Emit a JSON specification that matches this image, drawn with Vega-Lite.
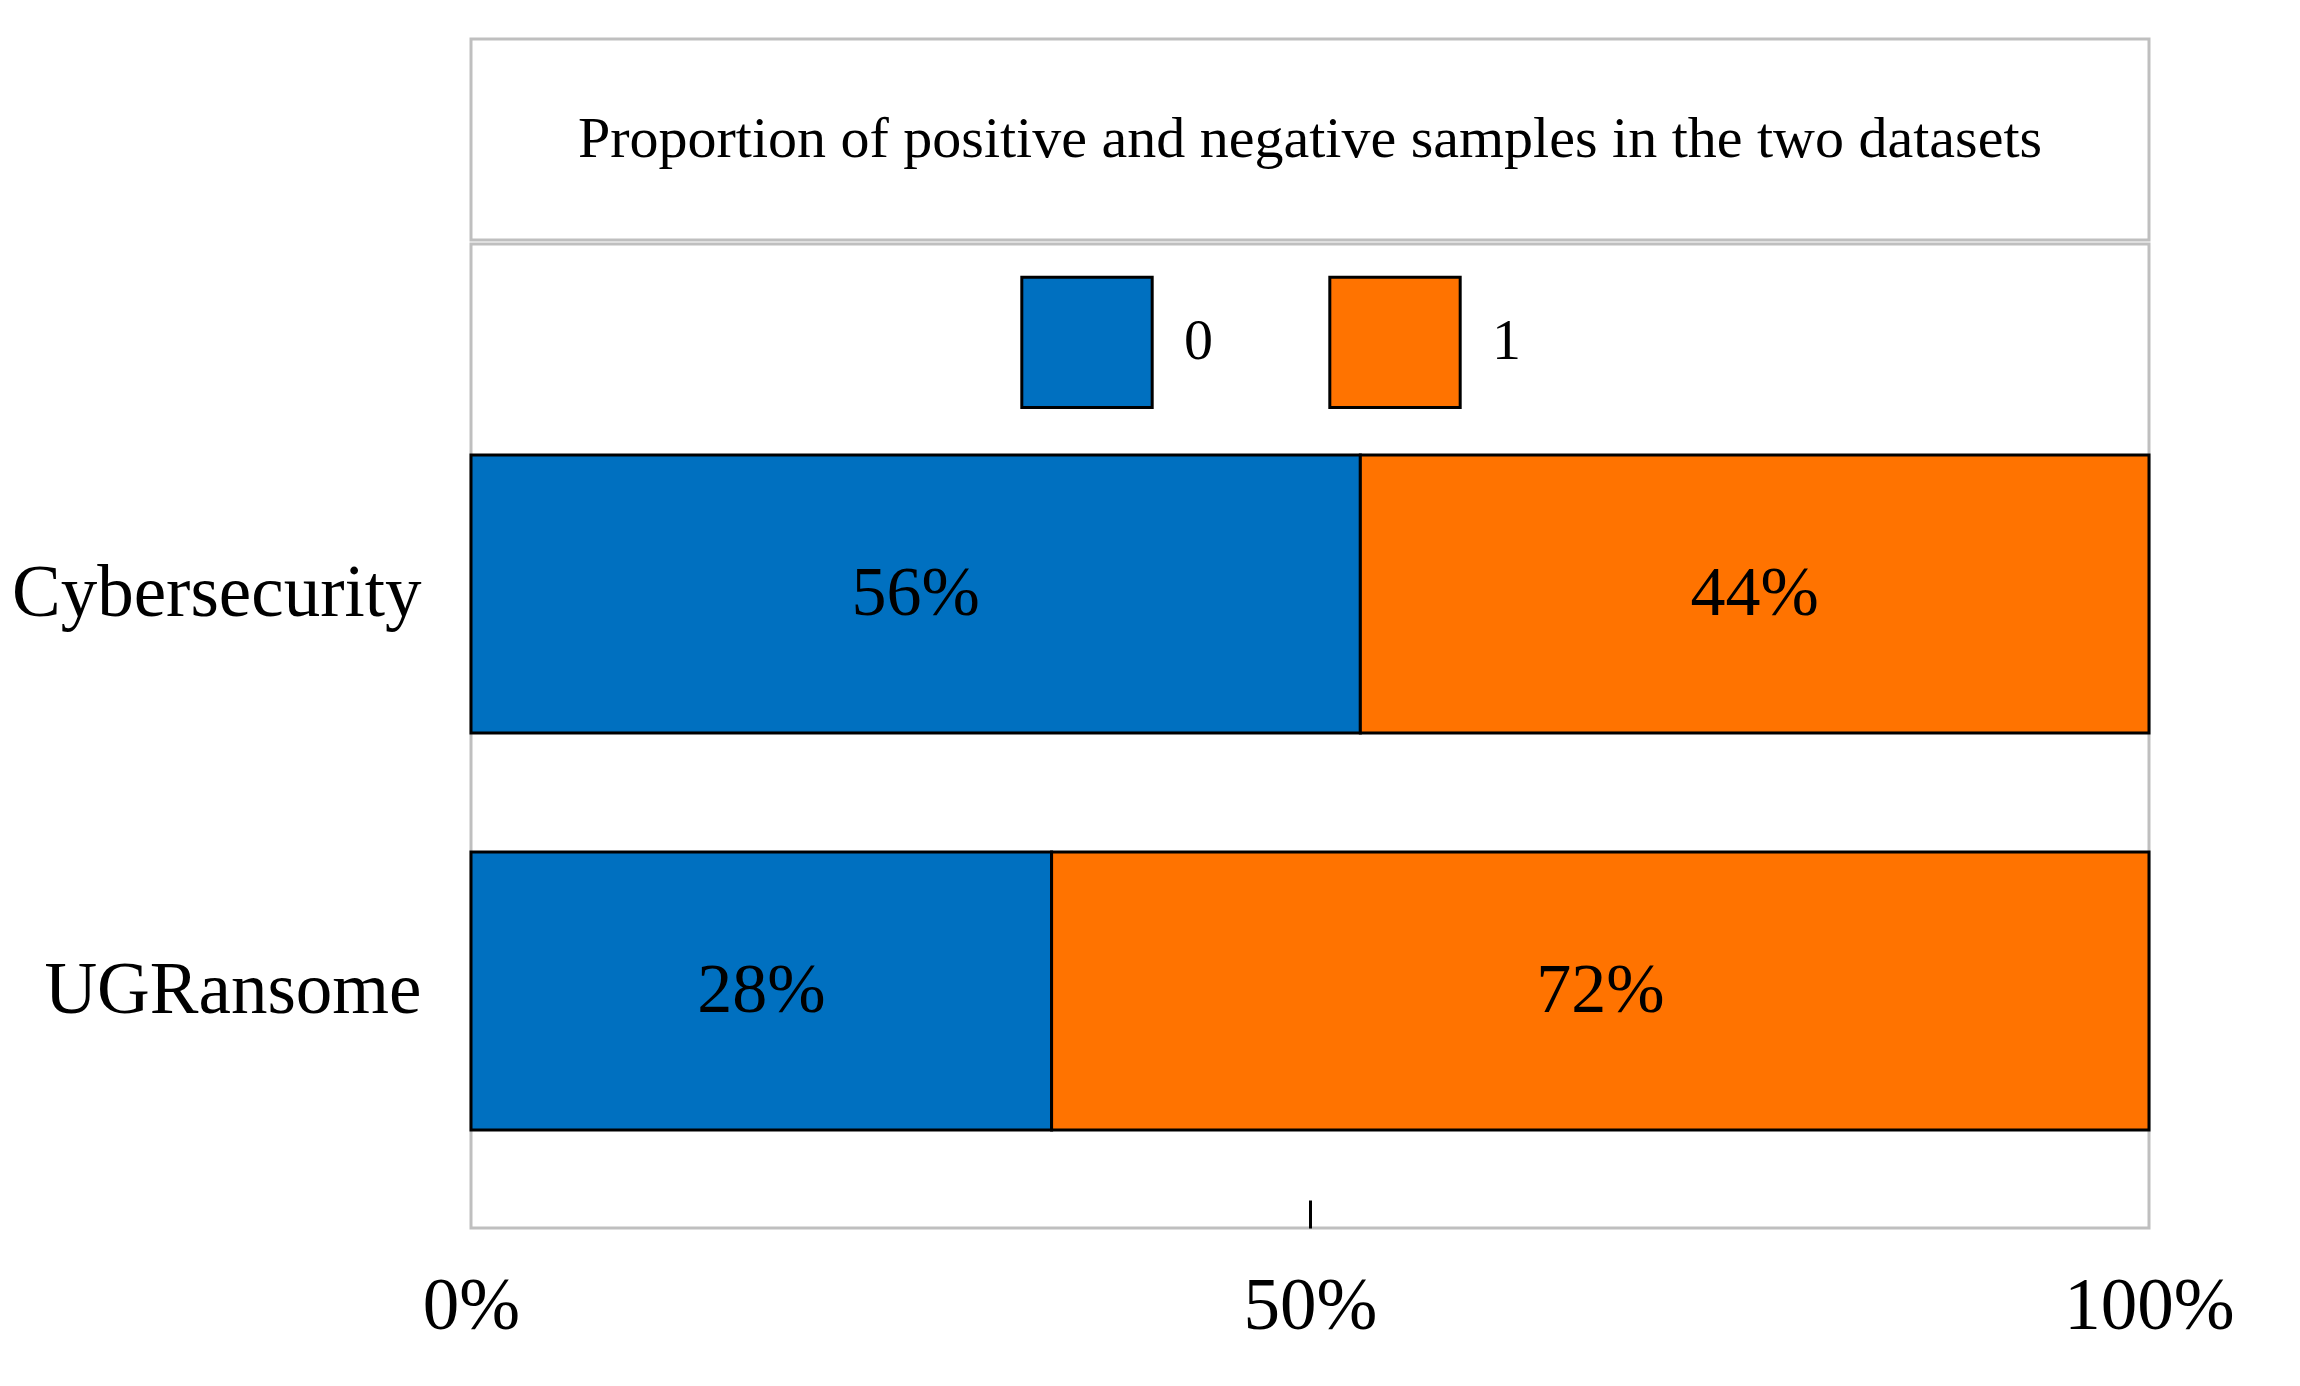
{
  "$schema": "https://vega.github.io/schema/vega-lite/v6.json",
  "background": "white",
  "padding": {"left": 10, "top": 37, "right": 132, "bottom": 20},
  "config": {
    "font": "Liberation Serif",
    "view": {"stroke": "#bfbfbf", "strokeWidth": 3},
    "concat": {"spacing": 0}
  },
  "vconcat": [
    {
      "width": 1678,
      "height": 201,
      "data": {"values": [{"t": "Proportion of positive and negative samples in the two datasets", "px": 0.5, "py": 0.5}]},
      "mark": {"type": "text", "fontSize": 58, "font": "Liberation Serif", "color": "black"},
      "encoding": {
        "x": {"field": "px", "type": "quantitative", "scale": {"domain": [0, 1]}, "axis": null},
        "y": {"field": "py", "type": "quantitative", "scale": {"domain": [0, 1]}, "axis": null},
        "text": {"field": "t"}
      }
    },
    {
      "width": 1678,
      "height": 984,
      "data": {"values": [
        {"dataset": "Cybersecurity", "class": "0", "v": 0.53, "label": "56%"},
        {"dataset": "Cybersecurity", "class": "1", "v": 0.47, "label": "44%"},
        {"dataset": "UGRansome", "class": "0", "v": 0.346, "label": "28%"},
        {"dataset": "UGRansome", "class": "1", "v": 0.654, "label": "72%"}
      ]},
      "transform": [
        {"stack": "v", "groupby": ["dataset"], "sort": [{"field": "class"}], "as": ["v0", "v1"]},
        {"calculate": "(datum.v0 + datum.v1) / 2", "as": "mid"}
      ],
      "encoding": {
        "y": {
          "field": "dataset", "type": "nominal", "title": null,
          "scale": {"domain": ["Cybersecurity", "UGRansome"], "range": [211, 886], "paddingInner": 0.3, "paddingOuter": 0},
          "axis": {"ticks": false, "domain": false, "labelLimit": 0, "labelFontSize": 73, "labelPadding": 50, "labelColor": "black", "labelFont": "Liberation Serif"}
        }
      },
      "layer": [
        {
          "mark": {"type": "bar", "stroke": "black", "strokeWidth": 3},
          "encoding": {
            "x": {
              "field": "v0", "type": "quantitative", "title": null,
              "scale": {"domain": [0, 1]},
              "axis": {"values": [0, 0.5, 1], "format": ".0%", "grid": false, "domain": false, "tickSize": -28, "tickWidth": 3, "tickColor": "black", "tickOpacity": {"expr": "datum.value == 0.5 ? 1 : 0"}, "labelPadding": 70, "labelFontSize": 73, "labelColor": "black", "labelFont": "Liberation Serif", "labelFlush": false}
            },
            "x2": {"field": "v1"},
            "color": {
              "field": "class", "type": "nominal",
              "scale": {"domain": ["0", "1"], "range": ["#0070c0", "#ff7300"]},
              "legend": {
                "title": null, "orient": "none", "legendX": 549, "legendY": 236,
                "direction": "horizontal", "symbolType": "square", "symbolSize": 17000,
                "symbolStrokeColor": "black", "symbolStrokeWidth": 3, "symbolOpacity": 1,
                "labelFontSize": 58, "labelOffset": 30, "columnPadding": 110,
                "labelColor": "black", "labelFont": "Liberation Serif"
              }
            }
          }
        },
        {
          "mark": {"type": "text", "fontSize": 70, "color": "black", "font": "Liberation Serif"},
          "encoding": {
            "x": {"field": "mid", "type": "quantitative"},
            "text": {"field": "label"}
          }
        }
      ]
    }
  ]
}
